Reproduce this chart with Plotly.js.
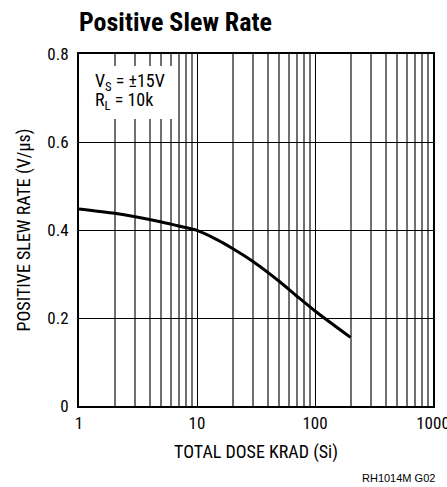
<!DOCTYPE html>
<html>
<head>
<meta charset="utf-8">
<script src="https://cdn.plot.ly/plotly-3.0.1.min.js"></script>
<style>html,body{margin:0;padding:0;background:#fff;}#chart{width:447px;height:487px;}</style>
</head>
<body>
<div id="chart"></div>
<script>
// Data
const doseKrad = [1, 2, 3, 5, 7, 10, 15, 20, 30, 50, 70, 100, 200];
const slewRate = [0.448, 0.438, 0.430, 0.418, 0.409, 0.399, 0.377, 0.358, 0.328, 0.283, 0.250, 0.216, 0.156];
const xTickVals = [1, 10, 100, 1000];
const xTickText = ['1', '10', '100', '1000'];
const xMinorVals = [2,3,4,5,6,7,8,9,20,30,40,50,60,70,80,90,200,300,400,500,600,700,800,900];
const yTickVals = [0, 0.2, 0.4, 0.6, 0.8];
const yTickText = ['0', '0.2', '0.4', '0.6', '0.8'];

const NARROW = "'Liberation Sans Narrow', 'Arial Narrow', 'Roboto Condensed', sans-serif";

const trace = {
  x: doseKrad, y: slewRate, type: 'scatter', mode: 'lines',
  line: {color: '#000', width: 3, shape: 'spline', smoothing: 0.7},
  hoverinfo: 'skip'
};

const layout = {
  width: 447, height: 487,
  margin: {l: 79, r: 14, t: 54, b: 81},
  paper_bgcolor: '#fff', plot_bgcolor: '#fff',
  showlegend: false,
  font: {family: NARROW, size: 16, color: '#000'},
  title: {
    text: '<b>Positive Slew Rate</b>',
    font: {family: NARROW, size: 26, color: '#000'},
    x: 0, xref: 'paper', xanchor: 'left',
    y: 1 - 22/487, yref: 'container', yanchor: 'middle'
  },
  xaxis: {
    type: 'log', range: [0, 3],
    tickmode: 'array', tickvals: xTickVals, ticktext: xTickText,
    ticks: '', showgrid: true, gridcolor: '#000', gridwidth: 1,
    showline: true, linecolor: '#000', linewidth: 2, mirror: true,
    zeroline: false,
    ticklabeloverflow: 'allow',
    ticklabelstandoff: 1,
    tickfont: {family: NARROW, size: 17, color: '#000'},
    minor: {tickmode: 'array', tickvals: xMinorVals, showgrid: true, gridcolor: '#707070', gridwidth: 2, ticks: ''},
    title: {text: 'TOTAL DOSE KRAD (Si)', font: {family: NARROW, size: 18, color: '#000'}, standoff: 13}
  },
  yaxis: {
    range: [0, 0.8],
    tickmode: 'array', tickvals: yTickVals, ticktext: yTickText,
    ticks: '', showgrid: true, gridcolor: '#000', gridwidth: 1,
    showline: true, linecolor: '#000', linewidth: 2, mirror: true,
    zeroline: false,
    ticklabelstandoff: 5,
    tickfont: {family: NARROW, size: 17, color: '#000'},
    title: {text: 'POSITIVE SLEW RATE (V/µs)', font: {family: NARROW, size: 18, color: '#000'}, standoff: 12}
  },
  shapes: [{
    type: 'rect', xref: 'paper', yref: 'paper', layer: 'above',
    x0: 0.004, x1: 0.266, y0: 0.815, y1: 0.966,
    fillcolor: '#fff', line: {width: 0}
  }],
  annotations: [
    {text: 'V<sub>S</sub> = ±15V', xref: 'paper', yref: 'paper', x: (93-79)/354, y: (406-82)/352,
     xanchor: 'left', yanchor: 'middle', showarrow: false, align: 'left',
     font: {family: NARROW, size: 18, color: '#000'}},
    {text: 'R<sub>L</sub> = 10k', xref: 'paper', yref: 'paper', x: (93-79)/354, y: (406-101)/352,
     xanchor: 'left', yanchor: 'middle', showarrow: false, align: 'left',
     font: {family: NARROW, size: 18, color: '#000'}},
    {text: 'RH1014M G02', xref: 'paper', yref: 'paper', x: 1, y: -(478-406)/352,
     xanchor: 'right', yanchor: 'middle', xshift: 4, showarrow: false,
     font: {family: "'Liberation Sans', Arial, sans-serif", size: 11, color: '#000'}}
  ]
};

Plotly.newPlot('chart', [trace], layout, {displayModeBar: false, staticPlot: true});
</script>
</body>
</html>
